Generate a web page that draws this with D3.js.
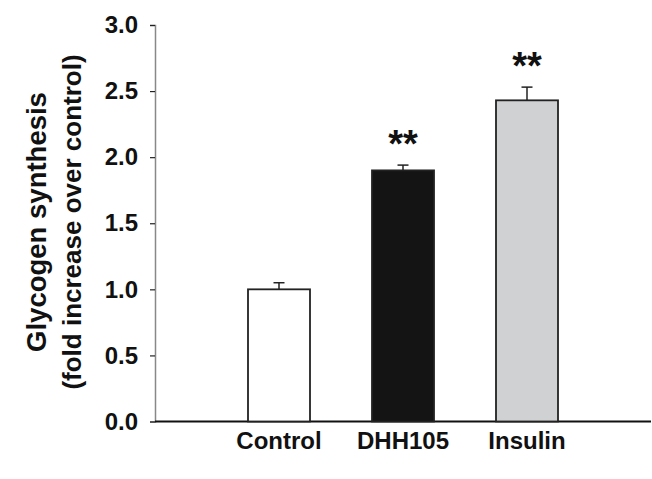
<!DOCTYPE html>
<html>
<head>
<meta charset="utf-8">
<script src="https://cdn.jsdelivr.net/npm/d3@7"></script>
<style>
  body { margin: 0; background: #fff; }
  svg { display: block; font-family: "Liberation Sans", Arial, sans-serif; font-weight: bold; }
</style>
</head>
<body>
<svg id="chart" width="652" height="479"></svg>
<script>
const categories = ['Control', 'DHH105', 'Insulin'];
const means = [1.0, 1.9, 2.43];
const errors = [0.05, 0.04, 0.1];
const stars = ['', '**', '**'];
const fills = ['#ffffff', '#141414', '#d0d1d3'];
const yTicks = [0, 0.5, 1, 1.5, 2, 2.5, 3];

const svg = d3.select('#chart');
const plotLeft = 155, plotRight = 651, plotTop = 25, plotBottom = 421.5;

const x = d3.scalePoint().domain(categories).range([plotLeft, plotRight]).padding(1);
const y = d3.scaleLinear().domain([0, 3]).range([plotBottom, plotTop]);
const barW = x.step() * 0.5;

// y axis
const yAxis = svg.append('g')
  .attr('transform', `translate(${plotLeft},0)`)
  .call(d3.axisLeft(y).tickValues(yTicks).tickFormat(d3.format('.1f')).tickSize(5).tickPadding(12));
yAxis.select('.domain').attr('stroke', '#888').attr('stroke-width', 1.5);
yAxis.selectAll('.tick line').attr('stroke', '#222').attr('stroke-width', 1.2);
yAxis.selectAll('.tick text')
  .attr('font-size', 24).attr('font-family', '"Liberation Sans", Arial, sans-serif')
  .attr('font-weight', 'bold').attr('fill', '#111');

// x axis line + labels
svg.append('line')
  .attr('x1', plotLeft).attr('x2', plotRight).attr('y1', plotBottom).attr('y2', plotBottom)
  .attr('stroke', '#111').attr('stroke-width', 1.8);

svg.append('g').selectAll('text')
  .data(categories)
  .enter()
  .append('text')
  .attr('x', (d) => x(d))
  .attr('y', 449)
  .attr('text-anchor', 'middle')
  .attr('font-size', 24)
  .attr('fill', '#111')
  .text((d) => d);

// bars
const bars = svg.append('g').selectAll('g')
  .data(categories)
  .enter()
  .append('g');

bars.append('line')
  .attr('x1', (d) => x(d)).attr('x2', (d) => x(d))
  .attr('y1', (d, i) => y(means[i]))
  .attr('y2', (d, i) => y(means[i] + errors[i]))
  .attr('stroke', '#222').attr('stroke-width', 1.5);

bars.append('line')
  .attr('x1', (d) => x(d) - 5.5).attr('x2', (d) => x(d) + 5.5)
  .attr('y1', (d, i) => y(means[i] + errors[i]))
  .attr('y2', (d, i) => y(means[i] + errors[i]))
  .attr('stroke', '#222').attr('stroke-width', 1.5);

bars.append('rect')
  .attr('x', (d) => x(d) - barW / 2)
  .attr('y', (d, i) => y(means[i]))
  .attr('width', barW)
  .attr('height', (d, i) => plotBottom - y(means[i]))
  .attr('fill', (d, i) => fills[i])
  .attr('stroke', '#222')
  .attr('stroke-width', 1.8);

bars.append('text')
  .attr('x', (d) => x(d))
  .attr('y', (d, i) => y(means[i] + errors[i]) - 8)
  .attr('text-anchor', 'middle')
  .attr('font-size', 38)
  .attr('fill', '#111')
  .text((d, i) => stars[i]);

// y title
const title = svg.append('text')
  .attr('transform', 'translate(0,222) rotate(-90)')
  .attr('text-anchor', 'middle')
  .attr('fill', '#111');
title.append('tspan').attr('x', 0).attr('y', 46).attr('font-size', 27.5).text('Glycogen synthesis');
title.append('tspan').attr('x', 0).attr('y', 81).attr('font-size', 26).text('(fold increase over control)');
</script>
</body>
</html>
